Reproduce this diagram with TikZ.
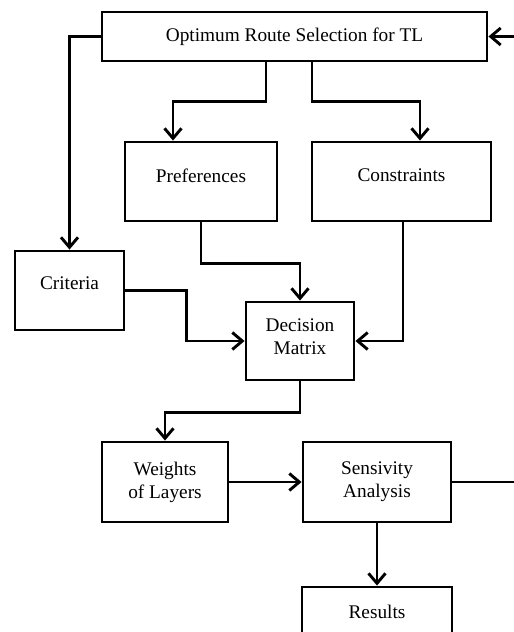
\documentclass[tikz,border=0pt]{standalone}
\usepackage{fontspec}
\setmainfont{Liberation Serif}
\usetikzlibrary{arrows.meta}
\begin{document}
\begin{tikzpicture}[x=1pt,y=1pt,
square/.style={
% The shape:
rectangle,
draw=black,
line width=2.9pt,
inner sep=0pt,
minimum height=79pt,
align=center,
font=\fontsize{19.3}{23}\selectfont
},
coord/.style={
coordinate
},
line/.style={line width=2.9pt},
>={Straight Barb[length=10pt,width=17pt]}
]
\useasboundingbox (0,0) rectangle (514,-632);
% boxes
\node (route) [square,minimum width=385pt,minimum height=49pt] at (294.5,-36.5) {Optimum Route Selection for TL};
\node (pref) [square,minimum width=152pt,text depth=12pt] at (201,-181.5) {Preferences};
\node (cons) [square,minimum width=179pt,text depth=12pt] at (401.5,-181.5) {Constraints};
\node (crit) [square,minimum width=109pt,text depth=14pt] at (69.5,-290.5) {Criteria};
\node (dec) [square,minimum width=108pt,minimum height=78pt] at (300,-341) {Decision\\Matrix\\[-14pt]};
\node (wts) [square,minimum width=126pt,minimum height=80pt] at (165,-482) {Weights\\of Layers};
\node (sens) [square,minimum width=148pt,minimum height=80pt] at (377,-482) {Sensivity\\Analysis};
\node (res) [square,minimum width=150pt,minimum height=80pt,text depth=30pt] at (377,-627) {Results};
\node (back) [coord] at (515,0) {};

\draw[line,->] (route.west) -| (crit.north);
\draw[line,->] ([xshift=-28.5pt]route.south) -- ++(0,-39) -| ([xshift=-28pt]pref.north);
\draw[line,->] ([xshift=17.5pt]route.south) -- ++(0,-39) -| ([xshift=18.5pt]cons.north);

\draw[line,->] (pref.south) -- ++(0,-41) -| (dec.north);
\draw[line,->] (crit.east) -- ++(61,0) |- (dec.west);
\draw[line,->] ([xshift=1.5pt]cons.south) |- (dec.east);

\draw[line,->] (dec.south) -- ++(0,-31) -| (wts.north);
\draw[line,->] (wts) -- (sens);
\draw[line,->] (sens) -- (res);
% feedback to the top
\draw[line,->] (sens.east) -- (sens.east -| back) -- (route.east -| back) -- (route.east);
\end{tikzpicture}
\end{document}
